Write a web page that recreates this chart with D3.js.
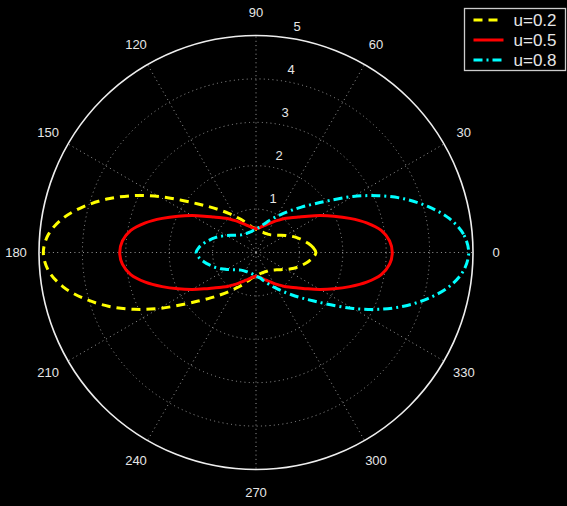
<!DOCTYPE html>
<html>
<head>
<meta charset="utf-8">
<script src="https://cdn.jsdelivr.net/npm/d3@7"></script>
<style>
  body { margin: 0; background: #000; }
  text { font-family: "Liberation Sans", Arial, sans-serif; fill: #e6e6e6; }
</style>
</head>
<body>
<svg id="chart" width="567" height="506"></svg>
<script>
// angles in degrees (5 degree steps), radius values
var angles = [0, 5, 10, 15, 20, 25, 30, 35, 40, 45, 50, 55, 60, 65, 70, 75, 80, 85,
              90, 95, 100, 105, 110, 115, 120, 125, 130, 135, 140, 145, 150, 155, 160, 165, 170, 175,
              180, 185, 190, 195, 200, 205, 210, 215, 220, 225, 230, 235, 240, 245, 250, 255, 260, 265,
              270, 275, 280, 285, 290, 295, 300, 305, 310, 315, 320, 325, 330, 335, 340, 345, 350, 355];

var r_u02 = [1.38, 1.32, 1.22, 1.11, 1.00, 0.89, 0.78, 0.69, 0.62, 0.57, 0.53, 0.51, 0.50, 0.49, 0.49, 0.49, 0.50, 0.52,
             0.54, 0.57, 0.60, 0.67, 0.75, 0.85, 0.96, 1.10, 1.27, 1.48, 1.74, 2.10, 2.58, 3.10, 3.62, 4.10, 4.52, 4.80,
             4.90, 4.80, 4.52, 4.10, 3.62, 3.10, 2.58, 2.10, 1.74, 1.48, 1.27, 1.10, 0.96, 0.85, 0.75, 0.67, 0.60, 0.57,
             0.54, 0.52, 0.50, 0.49, 0.49, 0.49, 0.50, 0.51, 0.53, 0.57, 0.62, 0.69, 0.78, 0.89, 1.00, 1.11, 1.22, 1.32];
var r_u05 = [3.14, 3.09, 2.93, 2.64, 2.30, 1.98, 1.70, 1.46, 1.27, 1.13, 1.02, 0.91, 0.82, 0.74, 0.68, 0.63, 0.59, 0.56,
             0.55, 0.56, 0.59, 0.63, 0.68, 0.74, 0.82, 0.91, 1.02, 1.13, 1.27, 1.46, 1.70, 1.98, 2.30, 2.64, 2.93, 3.09,
             3.14, 3.09, 2.93, 2.64, 2.30, 1.98, 1.70, 1.46, 1.27, 1.13, 1.02, 0.91, 0.82, 0.74, 0.68, 0.63, 0.59, 0.56,
             0.55, 0.56, 0.59, 0.63, 0.68, 0.74, 0.82, 0.91, 1.02, 1.13, 1.27, 1.46, 1.70, 1.98, 2.30, 2.64, 2.93, 3.09];
var r_u08 = [4.90, 4.80, 4.52, 4.10, 3.62, 3.10, 2.58, 2.10, 1.74, 1.48, 1.27, 1.10, 0.96, 0.85, 0.75, 0.67, 0.60, 0.57,
             0.54, 0.52, 0.50, 0.49, 0.49, 0.49, 0.50, 0.51, 0.53, 0.57, 0.62, 0.69, 0.78, 0.89, 1.00, 1.11, 1.22, 1.32,
             1.38, 1.32, 1.22, 1.11, 1.00, 0.89, 0.78, 0.69, 0.62, 0.57, 0.53, 0.51, 0.50, 0.49, 0.49, 0.49, 0.50, 0.52,
             0.54, 0.57, 0.60, 0.67, 0.75, 0.85, 0.96, 1.10, 1.27, 1.48, 1.74, 2.10, 2.58, 3.10, 3.62, 4.10, 4.52, 4.80];

var seriesNames = ["u=0.2", "u=0.5", "u=0.8"];
var seriesColors = ["#ffff00", "#ff0000", "#00ffff"];
var seriesDash = ["9,6", null, "9,4,2,4"];

var ringTicks = [1, 2, 3, 4, 5];
var spokeTicks = [0, 30, 60, 90, 120, 150, 180, 210, 240, 270, 300, 330];

var svg = d3.select("#chart");
svg.append("rect").attr("width", 567).attr("height", 506).attr("fill", "#000");

var cx = 256, cy = 252.5;
var rScale = d3.scaleLinear().domain([0, 5]).range([0, 217]);
var toRad = d => d * Math.PI / 180;

var g = svg.append("g").attr("transform", "translate(" + cx + "," + cy + ")");

// dotted grid circles
g.selectAll("circle.grid")
    .data(ringTicks.slice(0, 4))
    .join("circle")
    .attr("class", "grid")
    .attr("r", d => rScale(d))
    .attr("fill", "none")
    .attr("stroke", "#999")
    .attr("stroke-width", 1)
    .attr("stroke-dasharray", "1,3.3");

// spokes
g.selectAll("line.spoke")
    .data(spokeTicks)
    .join("line")
    .attr("class", "spoke")
    .attr("x1", 0).attr("y1", 0)
    .attr("x2", d => rScale(5) * Math.cos(toRad(d)))
    .attr("y2", d => -rScale(5) * Math.sin(toRad(d)))
    .attr("stroke", "#999")
    .attr("stroke-width", 1)
    .attr("stroke-dasharray", "1,3.3");

// outer circle
g.append("circle")
    .attr("r", rScale(5))
    .attr("fill", "none")
    .attr("stroke", "#eee")
    .attr("stroke-width", 1.6);

// angle labels
var labelR = rScale(5) + 23;
g.selectAll("text.ang")
    .data(spokeTicks)
    .join("text")
    .attr("class", "ang")
    .attr("x", d => labelR * Math.cos(toRad(d)))
    .attr("y", d => -labelR * Math.sin(toRad(d)))
    .attr("dy", "0.36em")
    .attr("text-anchor", "middle")
    .style("font-size", "13px")
    .text(d => d);

// ring labels
g.selectAll("text.ring")
    .data(ringTicks)
    .join("text")
    .attr("class", "ring")
    .attr("x", d => rScale(d) * Math.cos(toRad(82)) + 11)
    .attr("y", d => -rScale(d) * Math.sin(toRad(82)) - 11)
    .attr("dy", "0.36em")
    .attr("text-anchor", "middle")
    .style("font-size", "13px")
    .text(d => d);

// curves
var line = d3.lineRadial()
    .angle(d => toRad(90 - d[0]))
    .radius(d => rScale(d[1]))
    .curve(d3.curveCatmullRomClosed);

[r_u02, r_u05, r_u08].forEach(function(vals, i) {
    var pts = angles.map((a, j) => [a, vals[j]]);
    g.append("path")
        .attr("d", line(pts))
        .attr("fill", "none")
        .attr("stroke", seriesColors[i])
        .attr("stroke-width", 3)
        .attr("stroke-dasharray", seriesDash[i]);
});

// legend
var legend = svg.append("g").attr("transform", "translate(464.5,8.5)");
legend.append("rect")
    .attr("width", 101).attr("height", 62)
    .attr("fill", "#000")
    .attr("stroke", "#ccc")
    .attr("stroke-width", 1.3);

seriesNames.forEach(function(name, i) {
    var y = 11.5 + i * 20;
    legend.append("line")
        .attr("x1", 9).attr("x2", 39)
        .attr("y1", y).attr("y2", y)
        .attr("stroke", seriesColors[i])
        .attr("stroke-width", 3)
        .attr("stroke-dasharray", seriesDash[i]);
    legend.append("text")
        .attr("x", 49)
        .attr("y", y)
        .attr("dy", "0.36em")
        .style("font-size", "17px")
        .text(name);
});
</script>
</body>
</html>
